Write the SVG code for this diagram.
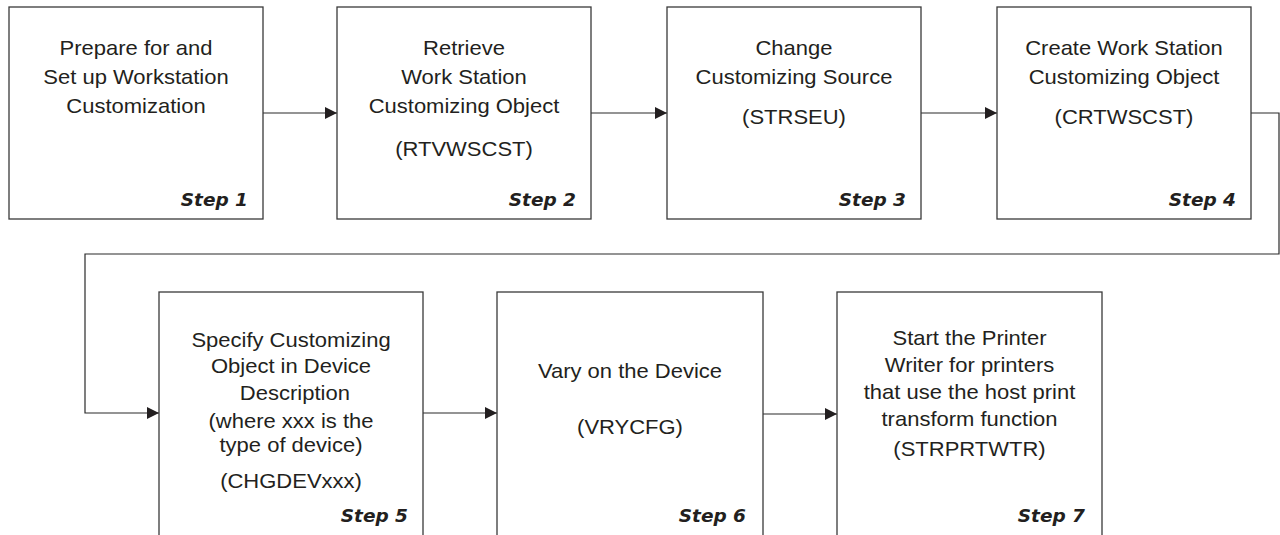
<svg xmlns="http://www.w3.org/2000/svg" width="1280" height="535" viewBox="0 0 1280 535">
<style>
.box{fill:#fff;stroke:#3a3a3a;stroke-width:1.3}
.t{font-family:"Liberation Sans",Arial,sans-serif;font-size:20px;fill:#231f20;text-anchor:middle}
.step{font-family:"DejaVu Sans",sans-serif;font-size:18.5px;font-weight:bold;font-style:italic;fill:#231f20;text-anchor:end}
.conn{fill:none;stroke:#2a2a2a;stroke-width:1.2}
</style>
<defs>
<marker id="ah" viewBox="0 0 12 12" refX="12" refY="6" markerWidth="12" markerHeight="12" markerUnits="userSpaceOnUse" orient="auto">
<path d="M0,0 L12,6 L0,12 Z" fill="#231f20"/>
</marker>
</defs>
<rect width="1280" height="535" fill="#fff"/>
<g id="connectors">
<path class="conn" d="M263,113 H337" marker-end="url(#ah)"/>
<path class="conn" d="M591,113 H667" marker-end="url(#ah)"/>
<path class="conn" d="M921,113 H997" marker-end="url(#ah)"/>
<path class="conn" d="M1251,113 H1279 V254 H85 V413 H159" marker-end="url(#ah)"/>
<path class="conn" d="M423,413 H497" marker-end="url(#ah)"/>
<path class="conn" d="M763,414 H837" marker-end="url(#ah)"/>
</g>
<g id="step1">
<rect class="box" x="9" y="7" width="254" height="212"/>
<g transform="translate(136 0) scale(1.1 1)">
<text class="t" x="0" y="55.5">Prepare for and</text>
<text class="t" x="0" y="84.5">Set up Workstation</text>
<text class="t" x="0" y="113.5">Customization</text>
</g>
<text class="step" x="248" y="206">Step 1</text>
</g>
<g id="step2">
<rect class="box" x="337" y="7" width="254" height="212"/>
<g transform="translate(464 0) scale(1.1 1)">
<text class="t" x="0" y="55.5">Retrieve</text>
<text class="t" x="0" y="84.5">Work Station</text>
<text class="t" x="0" y="113.5">Customizing Object</text>
<text class="t" x="0" y="156.5">(RTVWSCST)</text>
</g>
<text class="step" x="576" y="206">Step 2</text>
</g>
<g id="step3">
<rect class="box" x="667" y="7" width="254" height="212"/>
<g transform="translate(794 0) scale(1.1 1)">
<text class="t" x="0" y="55.5">Change</text>
<text class="t" x="0" y="84.5">Customizing Source</text>
<text class="t" x="0" y="124.5">(STRSEU)</text>
</g>
<text class="step" x="906" y="206">Step 3</text>
</g>
<g id="step4">
<rect class="box" x="997" y="7" width="254" height="212"/>
<g transform="translate(1124 0) scale(1.1 1)">
<text class="t" x="0" y="55.5">Create Work Station</text>
<text class="t" x="0" y="84.5">Customizing Object</text>
<text class="t" x="0" y="124.5">(CRTWSCST)</text>
</g>
<text class="step" x="1236" y="206">Step 4</text>
</g>
<g id="step5">
<rect class="box" x="159" y="292" width="264" height="260"/>
<g transform="translate(291 0) scale(1.1 1)">
<text class="t" x="0" y="347.5">Specify Customizing</text>
<text class="t" x="0" y="373.5">Object in Device</text>
<text class="t" x="3.5" y="400">Description</text>
<text class="t" x="0" y="428">(where xxx is the</text>
<text class="t" x="0" y="452">type of device)</text>
<text class="t" x="0" y="488.5">(CHGDEVxxx)</text>
</g>
<text class="step" x="408" y="521.5">Step 5</text>
</g>
<g id="step6">
<rect class="box" x="497" y="292" width="266" height="260"/>
<g transform="translate(630 0) scale(1.1 1)">
<text class="t" x="0" y="378">Vary on the Device</text>
<text class="t" x="0" y="434">(VRYCFG)</text>
</g>
<text class="step" x="746" y="521.5">Step 6</text>
</g>
<g id="step7">
<rect class="box" x="837" y="292" width="265" height="260"/>
<g transform="translate(969.5 0) scale(1.1 1)">
<text class="t" x="0" y="345">Start the Printer</text>
<text class="t" x="0" y="372">Writer for printers</text>
<text class="t" x="0" y="399">that use the host print</text>
<text class="t" x="0" y="426.5">transform function</text>
<text class="t" x="0" y="456.5">(STRPRTWTR)</text>
</g>
<text class="step" x="1085" y="521.5">Step 7</text>
</g>
</svg>
